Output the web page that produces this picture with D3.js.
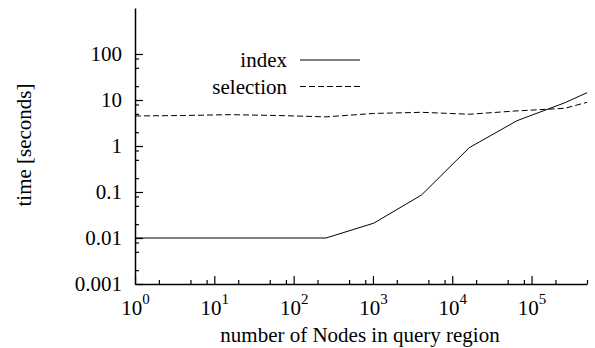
<!DOCTYPE html>
<html>
<head>
<meta charset="utf-8">
<script src="https://cdn.jsdelivr.net/npm/d3@7"></script>
<style>
  body { margin: 0; background: #fff; }
  text { font-family: "Liberation Serif", "Times New Roman", serif; fill: #000; }
</style>
</head>
<body>
<div id="chart"></div>
<script>
// number of nodes in the query region (x) and timings
var nodes = [1, 4, 16, 64, 256, 1024, 4096, 16384, 65536, 262144, 500000];
var indexTime = [0.01, 0.01, 0.01, 0.01, 0.01, 0.021, 0.086, 0.92, 3.55, 8.7, 14.4];
var selectionTime = [4.5, 4.6, 4.8, 4.6, 4.3, 5.1, 5.4, 4.9, 5.8, 6.6, 8.9];

// tick values
var yMajor = [0.001, 0.01, 0.1, 1, 10, 100];
var yLabels = ["0.001", "0.01", "0.1", "1", "10", "100"];
var xExponents = [0, 1, 2, 3, 4, 5];
var minorSteps = [2, 5, 8];

var seriesNames = ["index", "selection"];

var width = 595,
    height = 348,
    fontSize = 21;

var svg = d3.select("#chart").append("svg")
    .attr("width", width)
    .attr("height", height);

var x = d3.scaleLog()
    .domain([1, 500000])
    .range([135, 587]);

var y = d3.scaleLog()
    .domain([0.001, 1000])
    .range([284, 8]);

// minor ticks: 2, 5, 8 times each decade, kept inside the labelled range
var xMajor = xExponents.map(function (e) { return Math.pow(10, e); });
var xMinor = [];
xMajor.forEach(function (d) {
    minorSteps.forEach(function (m) {
        if (d * m <= 500000) xMinor.push(d * m);
    });
});
var yMinor = [];
yMajor.slice(0, -1).forEach(function (d) {
    minorSteps.forEach(function (m) { yMinor.push(d * m); });
});

// y axis
svg.append("g")
    .attr("transform", "translate(135,0)")
    .call(d3.axisLeft(y)
        .tickValues(yMajor)
        .tickFormat(function (d, i) { return yLabels[i]; })
        .tickSizeInner(-8)
        .tickSizeOuter(0)
        .tickPadding(13));

svg.append("g")
    .attr("transform", "translate(135,0)")
    .call(d3.axisLeft(y)
        .tickValues(yMinor)
        .tickFormat("")
        .tickSizeInner(-4)
        .tickSizeOuter(0))
    .select(".domain").remove();

// x axis
var xAxisG = svg.append("g")
    .attr("transform", "translate(0,284)")
    .call(d3.axisBottom(x)
        .tickValues(xMajor)
        .tickFormat(function () { return ""; })
        .tickSizeInner(-8)
        .tickSizeOuter(0)
        .tickPadding(16));

svg.append("g")
    .attr("transform", "translate(0,284)")
    .call(d3.axisBottom(x)
        .tickValues(xMinor)
        .tickFormat("")
        .tickSizeInner(-4)
        .tickSizeOuter(0))
    .select(".domain").remove();

// power-of-ten labels with superscript
xAxisG.selectAll(".tick text").each(function (d, i) {
    var t = d3.select(this);
    t.append("tspan").text("10");
    t.append("tspan")
        .attr("dy", -11)
        .attr("font-size", 15)
        .text(xExponents[i]);
});

svg.selectAll(".domain").attr("stroke-width", 1.5);
svg.selectAll(".tick line").attr("stroke-width", 1.2);
svg.selectAll(".tick text")
    .attr("font-size", fontSize)
    .attr("font-family", "Liberation Serif, serif");

// axis titles
svg.append("text")
    .attr("transform", "translate(31,145) rotate(-90)")
    .attr("text-anchor", "middle")
    .attr("font-size", fontSize)
    .text("time [seconds]");

svg.append("text")
    .attr("x", 360)
    .attr("y", 342)
    .attr("text-anchor", "middle")
    .attr("font-size", fontSize)
    .text("number of Nodes in query region");

// series lines
var line = d3.line()
    .x(function (d) { return x(d[0]); })
    .y(function (d) { return y(d[1]); });

var series = [indexTime, selectionTime];
var dashes = [null, "6,3"];

series.forEach(function (vals, k) {
    svg.append("path")
        .datum(nodes.map(function (n, i) { return [n, vals[i]]; }))
        .attr("fill", "none")
        .attr("stroke", "#000")
        .attr("stroke-width", 1)
        .attr("stroke-dasharray", dashes[k])
        .attr("d", line);
});

// legend
var legend = svg.append("g");
seriesNames.forEach(function (name, k) {
    var ly = 60 + k * 26.5;
    legend.append("text")
        .attr("x", 287)
        .attr("y", ly)
        .attr("dy", "0.35em")
        .attr("text-anchor", "end")
        .attr("font-size", fontSize)
        .text(name);
    legend.append("line")
        .attr("x1", 300)
        .attr("x2", 360)
        .attr("y1", ly)
        .attr("y2", ly)
        .attr("stroke", "#000")
        .attr("stroke-width", 1)
        .attr("stroke-dasharray", dashes[k]);
});
</script>
</body>
</html>
